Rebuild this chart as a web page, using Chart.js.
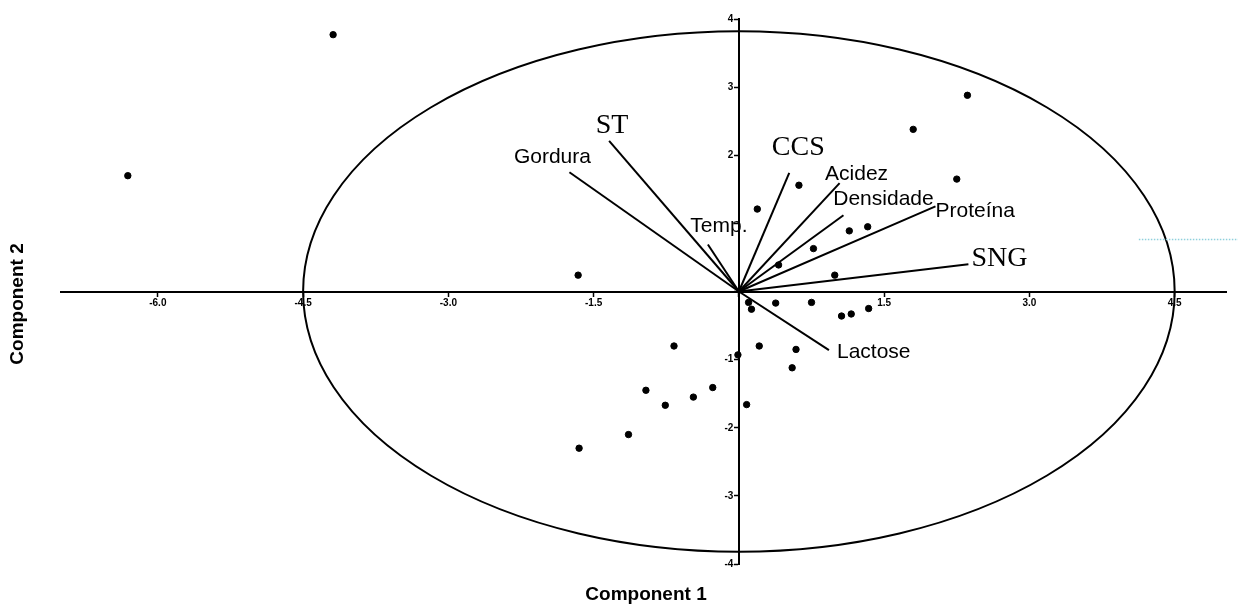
<!DOCTYPE html>
<html>
<head>
<meta charset="utf-8">
<script src="https://cdn.jsdelivr.net/npm/chart.js@4"></script>
<style>
  html, body { margin: 0; padding: 0; background: #fff; }
  #wrap { width: 1238px; height: 606px; }
</style>
</head>
<body>
<div id="wrap"><canvas id="myChart" width="1238" height="606"></canvas></div>
<script>
// scores (observations)
const scoreX = [-6.31, -4.19, -1.66, 0.19, 0.62, 0.77, 0.41, 0.99, 2.36, 1.80, 2.25, 1.14, 1.33,
  0.10, 0.13, 0.38, 0.75, -0.67, 0.21, 0.59, -0.01, 0.55, -0.27, -0.47, -0.96, -0.76, 0.08,
  -1.14, -1.65, 1.06, 1.16, 1.34];
const scoreY = [1.70, 3.77, 0.24, 1.21, 1.56, 0.63, 0.39, 0.24, 2.88, 2.38, 1.65, 0.89, 0.95,
  -0.16, -0.26, -0.17, -0.16, -0.80, -0.80, -0.85, -0.93, -1.12, -1.41, -1.55, -1.45, -1.67, -1.66,
  -2.10, -2.30, -0.36, -0.33, -0.25];

// loadings (variable vectors)
const loadingNames = ['Gordura', 'ST', 'Temp.', 'CCS', 'Acidez', 'Densidade', 'Proteína', 'SNG', 'Lactose'];
const loadingX = [-1.75, -1.34, -0.32, 0.52, 1.04, 1.08, 2.03, 2.37, 0.93];
const loadingY = [1.75, 2.21, 0.69, 1.74, 1.59, 1.12, 1.25, 0.40, -0.86];

const xTicks = [-6.0, -4.5, -3.0, -1.5, 0, 1.5, 3.0, 4.5];
const yTicks = [-4, -3, -2, -1, 0, 1, 2, 3, 4];
const ellipseRadius = [4.5, 3.82];

// label placement, px relative to the vector tip
const labelStyle = {
  'Gordura':   { dx: -17, dy: -15, align: 'center', serif: false },
  'ST':        { dx: 3,   dy: -15, align: 'center', serif: true },
  'Temp.':     { dx: 11,  dy: -18, align: 'center', serif: false },
  'CCS':       { dx: 9,   dy: -25, align: 'center', serif: true },
  'Acidez':    { dx: 17,  dy: -9,  align: 'center', serif: false },
  'Densidade': { dx: 40,  dy: -16, align: 'center', serif: false },
  'Proteína':  { dx: 0,   dy: 5,   align: 'left',   serif: false },
  'SNG':       { dx: 3,   dy: -6,  align: 'left',   serif: true },
  'Lactose':   { dx: 8,   dy: 2,   align: 'left',   serif: false }
};

const SANS = '"Liberation Sans", Arial, sans-serif';
const SERIF = '"Liberation Serif", "Times New Roman", serif';

const datasets = [{
  type: 'scatter',
  data: scoreX.map((x, i) => ({ x: x, y: scoreY[i] })),
  backgroundColor: '#000',
  borderColor: '#000',
  pointRadius: 3.2,
  pointHoverRadius: 3.2,
  clip: false
}];
loadingNames.forEach((name, i) => {
  datasets.push({
    type: 'line',
    label: name,
    data: [{ x: 0, y: 0 }, { x: loadingX[i], y: loadingY[i] }],
    borderColor: '#000',
    borderWidth: 2,
    pointRadius: 0,
    fill: false,
    clip: false
  });
});

const biplotExtras = {
  id: 'biplotExtras',
  beforeDatasetsDraw(chart) {
    const { ctx } = chart;
    const xs = chart.scales.x, ys = chart.scales.y;
    const cx = xs.getPixelForValue(0), cy = ys.getPixelForValue(0);
    ctx.save();
    ctx.strokeStyle = '#000';
    ctx.lineWidth = 2;
    ctx.beginPath();
    ctx.ellipse(cx, cy, xs.getPixelForValue(ellipseRadius[0]) - cx, cy - ys.getPixelForValue(ellipseRadius[1]), 0, 0, Math.PI * 2);
    ctx.stroke();
    ctx.restore();
  },
  afterDatasetsDraw(chart) {
    const { ctx } = chart;
    const xs = chart.scales.x, ys = chart.scales.y;
    ctx.save();
    ctx.fillStyle = '#000';
    ctx.textBaseline = 'middle';
    loadingNames.forEach((name, i) => {
      const s = labelStyle[name];
      ctx.font = s.serif ? '28px ' + SERIF : '21px ' + SANS;
      ctx.textAlign = s.align;
      ctx.fillText(name, xs.getPixelForValue(loadingX[i]) + s.dx, ys.getPixelForValue(loadingY[i]) + s.dy);
    });

    // axis titles
    ctx.font = 'bold 19px ' + SANS;
    ctx.textAlign = 'center';
    ctx.fillText('Component 1', 646, 595);
    ctx.translate(18, 304);
    ctx.rotate(-Math.PI / 2);
    ctx.fillText('Component 2', 0, 0);
    ctx.restore();

    // faint dotted scan line at the right edge
    ctx.save();
    ctx.strokeStyle = '#8fd0dc';
    ctx.lineWidth = 1.5;
    ctx.setLineDash([1.5, 1.5]);
    ctx.beginPath();
    const ly = ys.getPixelForValue(0.77) + 0.5;
    ctx.moveTo(xs.getPixelForValue(4.13), ly);
    ctx.lineTo(chart.width, ly);
    ctx.stroke();
    ctx.restore();
  }
};

const tickFont = { family: SANS, size: 10, weight: 'bold' };

const ctx = document.getElementById('myChart').getContext('2d');
const myChart = new Chart(ctx, {
  data: { datasets: datasets },
  options: {
    responsive: false,
    animation: false,
    events: [],
    layout: { padding: { left: 61, right: 12, top: 19, bottom: 42 } },
    plugins: { legend: { display: false }, tooltip: { enabled: false } },
    scales: {
      x: {
        type: 'linear',
        min: -7,
        max: 5.03,
        position: { y: 0 },
        afterFit: (scale) => { scale.height = 0; },
        afterBuildTicks: (scale) => { scale.ticks = xTicks.map(v => ({ value: v })); },
        grid: { drawOnChartArea: false, drawTicks: true, tickLength: 4, tickWidth: 1.5, tickColor: '#000' },
        border: { display: true, color: '#000', width: 2 },
        ticks: {
          color: '#000',
          font: tickFont,
          maxRotation: 0,
          autoSkip: false,
          padding: 2,
          callback: (v) => v === 0 ? '' : Number(v).toFixed(1)
        }
      },
      y: {
        type: 'linear',
        min: -4,
        max: 4,
        position: { x: 0 },
        afterFit: (scale) => { scale.width = 0; },
        afterBuildTicks: (scale) => { scale.ticks = yTicks.map(v => ({ value: v })); },
        grid: { drawOnChartArea: false, drawTicks: true, tickLength: 4, tickWidth: 1.5, tickColor: '#000' },
        border: { display: true, color: '#000', width: 2 },
        ticks: {
          color: '#000',
          font: tickFont,
          autoSkip: false,
          // labels sit right on the axis for centred scales, pad with spaces
          callback: (v) => (v === 0 || v === 1) ? '' : String(v) + '  '
        }
      }
    }
  },
  plugins: [biplotExtras]
});
</script>
</body>
</html>
